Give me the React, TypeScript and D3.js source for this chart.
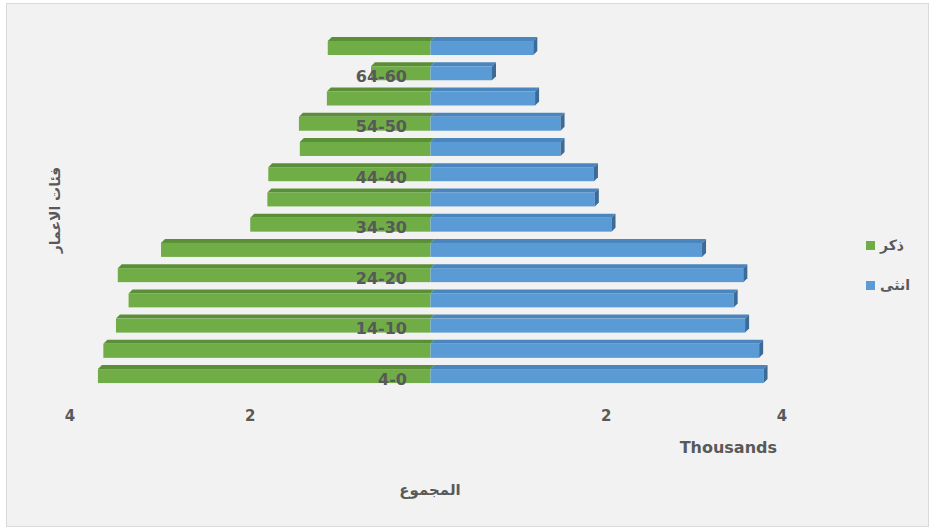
import React from "react";
import * as d3 from "d3";

const categories = ["4-0","9-5","14-10","19-15","24-20","29-25","34-30","39-35","44-40","49-45","54-50","59-55","64-60","69-65"];
const male = [3.69, 3.63, 3.49, 3.35, 3.47, 2.99, 2.00, 1.81, 1.80, 1.45, 1.46, 1.15, 0.66, 1.14];
const female = [3.79, 3.74, 3.58, 3.45, 3.56, 3.09, 2.06, 1.87, 1.86, 1.48, 1.48, 1.19, 0.70, 1.17];
const xTicks = [-4, -2, 2, 4];
const seriesNames = ["ذكر", "انثى"];

const W = 930, H = 530;
const GREEN = "#70ad47", GREEN_TOP = "#5a8f38";
const BLUE = "#5b9bd5", BLUE_TOP = "#4a86bd", BLUE_SIDE = "#3c6b98";
const TXT = "#595959";

export default function App() {
  const x = d3.scaleLinear().domain([-4, 0, 4]).range([70, 430.5, 782]);
  const y = d3.scaleBand().domain([...categories].reverse()).range([33.4, 386.7]);
  const dx = 4, dy = 4;
  const rows = categories.map((c, i) => {
    const cy = (y(c) as number) + y.bandwidth() / 2;
    return { c, i, cy, xl: x(-male[i]), x0: x(0), xr: x(female[i]) };
  });
  const poly = (pts: [number, number][]) => pts.map(p => p.join(",")).join(" ");
  return (
    <>
      <style>{"body{margin:0}"}</style>
      <svg width={W} height={H} style={{ display: "block" }}>
        <rect x={0} y={0} width={W} height={H} fill="#ffffff" />
        <rect x={6.5} y={3.5} width={922} height={523} fill="#f2f2f2" stroke="#d9d9d9" strokeWidth={1} />
        {rows.map(r => {
          const top = r.cy - 9, ft = r.cy - 5, fb = r.cy + 9;
          return (
            <g key={r.c}>
              <polygon points={poly([[r.xl, ft], [r.xl + dx, top], [r.x0 + dx, top], [r.x0, ft]])} fill={GREEN_TOP} />
              <rect x={r.xl} y={ft} width={r.x0 - r.xl} height={fb - ft} fill={GREEN} />
              <polygon points={poly([[r.x0, ft], [r.x0 + dx, top], [r.xr + dx, top], [r.xr, ft]])} fill={BLUE_TOP} />
              <rect x={r.x0} y={ft} width={r.xr - r.x0} height={fb - ft} fill={BLUE} />
              <polygon points={poly([[r.xr, ft], [r.xr + dx, top], [r.xr + dx, fb - dy], [r.xr, fb]])} fill={BLUE_SIDE} />
            </g>
          );
        })}
        {rows.filter(r => r.i % 2 === 0).map(r => (
          <text key={"l" + r.c} x={407} y={r.cy + 10.5} textAnchor="end" fontFamily="DejaVu Sans" fontWeight="bold" fontSize={16} fill={TXT}>{r.c}</text>
        ))}
        {xTicks.map(t => (
          <text key={"t" + t} x={x(t)} y={421} textAnchor="middle" fontFamily="DejaVu Sans" fontWeight="bold" fontSize={15} fill={TXT}>{Math.abs(t)}</text>
        ))}
        <text x={777} y={453} textAnchor="end" fontFamily="DejaVu Sans" fontWeight="bold" fontSize={16} fill={TXT}>Thousands</text>
        <text x={430} y={495} textAnchor="middle" fontFamily="DejaVu Sans" fontWeight="bold" fontSize={15} fill={TXT}>المجموع</text>
        <text transform="translate(60,210) rotate(-90)" textAnchor="middle" fontFamily="DejaVu Sans" fontWeight="bold" fontSize={14} fill={TXT}>فئات الاعمار</text>
        {seriesNames.map((s, i) => (
          <g key={s} transform={`translate(866,${241 + i * 40})`}>
            <rect x={0} y={0} width={9} height={9} fill={i === 0 ? GREEN : BLUE} />
            <text x={14} y={9} fontFamily="DejaVu Sans" fontWeight="bold" fontSize={14} fill={TXT}>{s}</text>
          </g>
        ))}
      </svg>
    </>
  );
}
